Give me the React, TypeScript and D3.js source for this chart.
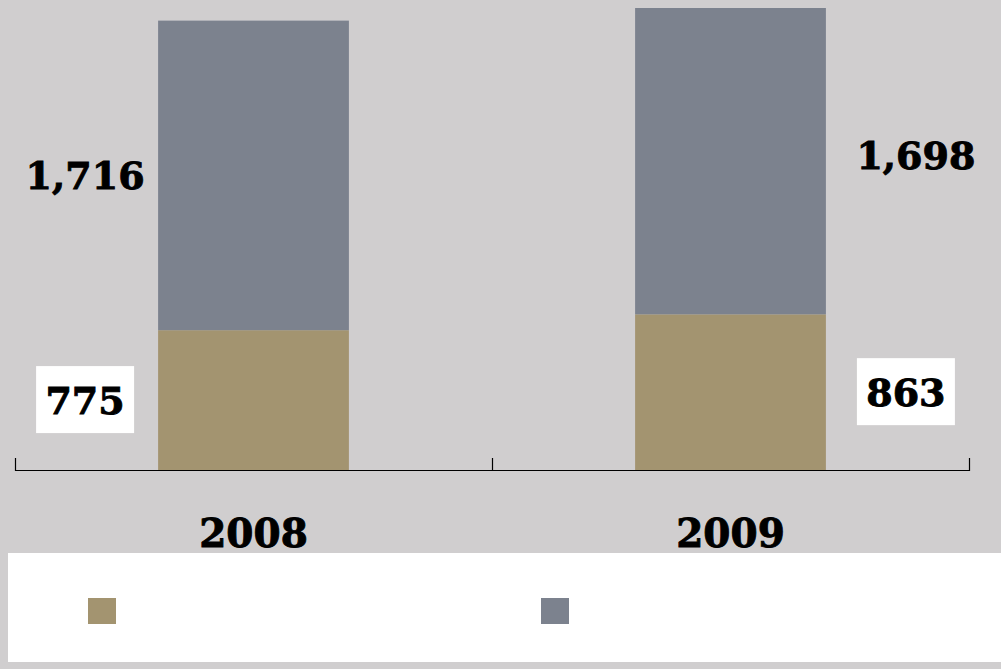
import React, { useEffect, useRef } from 'react';
import { scaleBand, scaleLinear, select, max, format } from 'd3';

const years = ['2008', '2009'];
const lowerValues = [775, 863];
const upperValues = [1716, 1698];
const seriesColors = ['#a39470', '#7c828e'];

const W = 1001;
const H = 669;

const App: React.FC = () => {
  const svgRef = useRef<SVGSVGElement>(null);

  useEffect(() => {
    document.body.style.margin = '0';
    const svg = select(svgRef.current);
    svg.selectAll('*').remove();

    const totals = years.map((_, i) => lowerValues[i] + upperValues[i]);
    const x = scaleBand<string>().domain(years).range([15, 969]).padding(0);
    const y = scaleLinear().domain([0, max(totals) as number]).range([470, 8]);
    const barW = x.bandwidth() * 0.4;
    const fmt = format(',');
    const font = '"DejaVu Serif", Georgia, serif';

    svg.append('rect').attr('width', W).attr('height', H).attr('fill', '#d0cecf');

    const label = (sel: any, size: number) =>
      sel.attr('font-family', font).attr('font-weight', 'bold').attr('font-size', size)
        .attr('fill', '#000').attr('stroke', '#000').attr('stroke-width', 0.9);

    const g = svg.append('g');
    years.forEach((yr, i) => {
      const cx = (x(yr) as number) + x.bandwidth() / 2;
      const x0 = cx - barW / 2;
      // lower segment
      g.append('rect')
        .attr('x', x0).attr('width', barW)
        .attr('y', y(lowerValues[i])).attr('height', y(0) - y(lowerValues[i]))
        .attr('fill', seriesColors[0]);
      // upper segment
      g.append('rect')
        .attr('x', x0).attr('width', barW)
        .attr('y', y(totals[i])).attr('height', y(lowerValues[i]) - y(totals[i]))
        .attr('fill', seriesColors[1]);

      // labels: left of bar for first year, right for second
      const lx = i === 0 ? x0 - 73 : x0 + barW + 80;
      const midLow = (y(0) + y(lowerValues[i])) / 2;
      const midUp = (y(lowerValues[i]) + y(totals[i])) / 2;

      g.append('rect')
        .attr('x', lx - 49).attr('y', midLow - 34)
        .attr('width', 98).attr('height', 67)
        .attr('fill', '#fff');
      label(g.append('text'), 38)
        .attr('x', lx).attr('y', midLow)
        .attr('dy', '0.36em')
        .attr('text-anchor', 'middle')
        .text(fmt(lowerValues[i]));
      label(g.append('text'), 38)
        .attr('x', lx + (i === 0 ? 0 : 10)).attr('y', midUp + (i === 0 ? 0 : -6))
        .attr('dy', '0.36em')
        .attr('text-anchor', 'middle')
        .text(fmt(upperValues[i]));

      label(g.append('text'), 39)
        .attr('x', cx).attr('y', 547)
        .attr('text-anchor', 'middle')
        .text(yr);
    });

    // axis
    const axis = svg.append('g').attr('stroke', '#000').attr('stroke-width', 1.2);
    axis.append('line').attr('x1', 15).attr('x2', 969).attr('y1', 470.5).attr('y2', 470.5);
    const ticks = [...years.map((d) => x(d) as number), 969];
    ticks.forEach((t) => {
      axis.append('line').attr('x1', t + 0.5).attr('x2', t + 0.5).attr('y1', 458).attr('y2', 471);
    });

    // legend
    const legend = svg.append('g');
    legend.append('rect').attr('x', 8).attr('y', 553).attr('width', W - 8).attr('height', 109).attr('fill', '#fff');
    seriesColors.forEach((c, i) => {
      legend.append('rect')
        .attr('x', 88 + i * 453).attr('y', 598)
        .attr('width', 28).attr('height', 26)
        .attr('fill', c);
    });
  }, []);

  return <svg ref={svgRef} width={W} height={H} style={{ display: 'block' }} />;
};

export default App;
